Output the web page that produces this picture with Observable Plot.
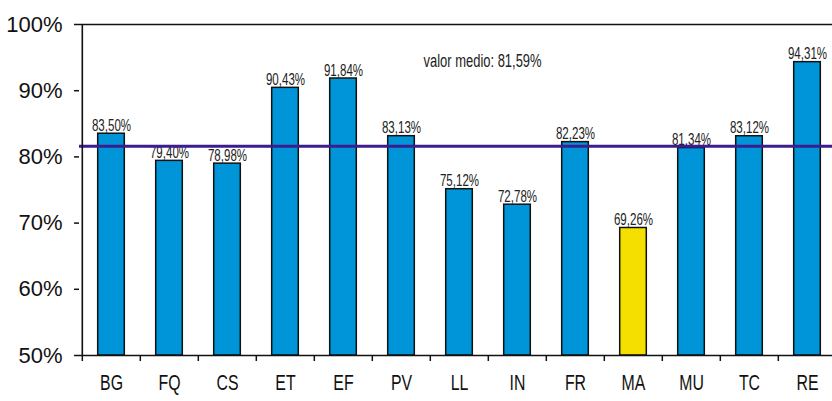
<!DOCTYPE html>
<html>
<head>
<meta charset="utf-8">
<script src="https://cdn.jsdelivr.net/npm/d3@7"></script>
<script src="https://cdn.jsdelivr.net/npm/@observablehq/plot@0.6"></script>
<style>
  html, body { margin: 0; padding: 0; background: #fff; }
  #chart svg { display: block; }
</style>
</head>
<body>
<div id="chart"></div>
<script>
const categories = ["BG","FQ","CS","ET","EF","PV","LL","IN","FR","MA","MU","TC","RE"];
const values = [83.50, 79.40, 78.98, 90.43, 91.84, 83.13, 75.12, 72.78, 82.23, 69.26, 81.34, 83.12, 94.31];
const highlight = ["MA"];
const meanValue = 81.59;
const meanLabel = "valor medio: 81,59%";
const yTicks = [50, 60, 70, 80, 90, 100];

const data = categories.map((c, i) => ({cat: c, value: values[i]}));
const fmt = v => v.toFixed(2).replace(".", ",") + "%";

const xRange = [79, 838];
const step = (xRange[1] - xRange[0]) / categories.length;
const narrow = "'Liberation Sans Narrow', 'Liberation Sans', sans-serif";

const chart = Plot.plot({
  width: 832,
  height: 401,
  marginTop: 24,
  marginBottom: 46,
  marginLeft: 79,
  marginRight: 0,
  style: {background: "#fff", color: "#111"},
  x: {domain: categories, range: xRange, padding: 0, axis: null, label: null},
  y: {domain: [50, 100], axis: null, label: null},
  marks: [
    Plot.barY(data, {
      x: "cat", y1: 50, y2: "value",
      fill: d => highlight.includes(d.cat) ? "#f5df00" : "#0094d9",
      stroke: "#111", strokeWidth: 1.5,
      insetLeft: 15.7, insetRight: 15.7
    }),
    Plot.text(data, {
      x: "cat", y: "value", text: d => fmt(d.value),
      lineAnchor: "bottom", dy: -3,
      fontSize: 16, fontFamily: narrow, fill: "#222"
    }),
    Plot.ruleY([meanValue], {stroke: "#3b1d8f", strokeWidth: 3}),
    Plot.text([meanLabel], {
      frameAnchor: "top-left", dx: 344, dy: 30,
      text: d => d, textAnchor: "start", lineAnchor: "top",
      fontSize: 18, fontFamily: narrow, fill: "#222"
    }),
    Plot.ruleY([50, 100], {stroke: "#111", strokeWidth: 1.6}),
    Plot.ruleX([categories[0]], {x: d => d, y1: 50, y2: 100, dx: -step / 2, stroke: "#111", strokeWidth: 1.6}),
    Plot.axisY({
      ticks: yTicks, tickFormat: d => d + "%", label: null,
      tickSize: 5, tickPadding: 12, fontSize: 22,
      fontFamily: "'Liberation Sans', sans-serif", stroke: "#111", fill: "#111", strokeWidth: 1.5
    }),
    Plot.axisX({
      tickSize: 6, tickFormat: () => "", label: null, dx: -step / 2, stroke: "#111", strokeWidth: 1.5
    }),
    Plot.axisX({
      tickSize: 0, tickPadding: 19, fontSize: 22, label: null,
      fontFamily: narrow, fill: "#111"
    })
  ]
});
document.getElementById("chart").appendChild(chart);

// condense the narrow-font texts (Futura Condensed look) since no condensed face is installed
chart.querySelectorAll('g[font-family*="Narrow"] text').forEach(t => {
  const w = t.getComputedTextLength();
  if (w > 0) {
    t.setAttribute("textLength", (w * 0.72).toFixed(1));
    t.setAttribute("lengthAdjust", "spacingAndGlyphs");
  }
});
</script>
</body>
</html>
